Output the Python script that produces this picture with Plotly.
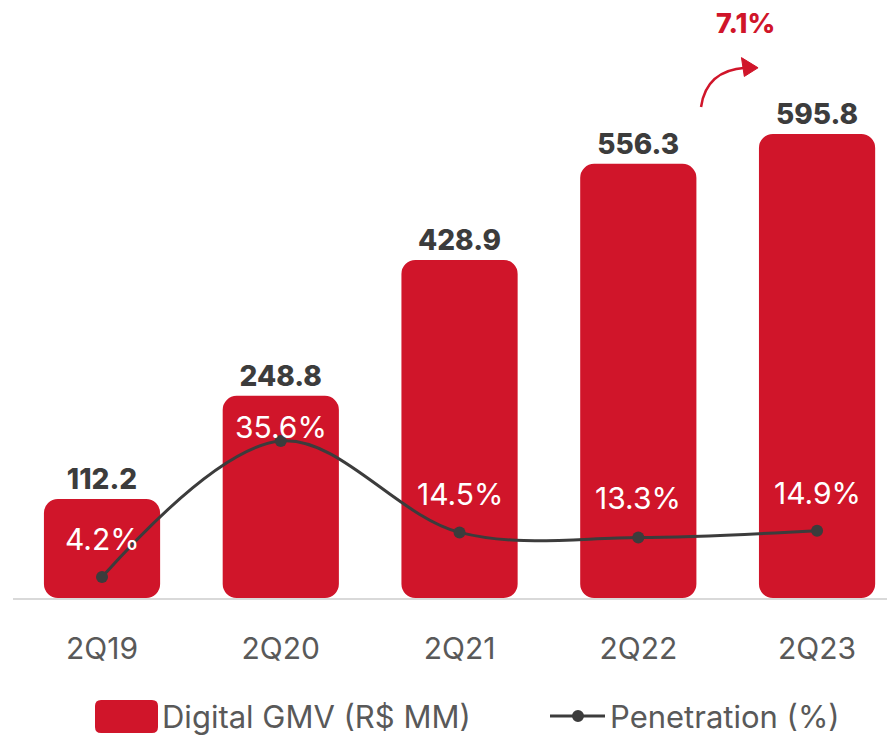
import plotly.graph_objects as go

categories = ["2Q19", "2Q20", "2Q21", "2Q22", "2Q23"]
gmv = [112.2, 248.8, 428.9, 556.3, 595.8]
penetration = [4.2, 35.6, 14.5, 13.3, 14.9]
growth_label = "7.1%"
legend_labels = ["Digital GMV (R$ MM)", "Penetration (%)"]

RED = "#D0152A"
DARK = "#3C3C3C"
GRAY = "#595959"
FONT = "Inter, Roboto, Open Sans, sans-serif"
Y_MIN, Y_MAX = -19, 762.7
Y2_MIN, Y2_MAX = -0.65, 135.6

xs = list(range(len(categories)))

fig = go.Figure()
fig.add_trace(go.Bar(
    x=xs, y=[v - Y_MIN for v in gmv], base=Y_MIN, width=0.65,
    marker=dict(color=RED, line=dict(width=0)),
    text=[f"{v:.1f}" for v in gmv], textposition="outside",
    textfont=dict(size=28, color=DARK, family=FONT, weight=800),
    constraintext="none", cliponaxis=False, showlegend=False,
))
fig.add_trace(go.Scatter(
    x=xs, y=penetration, yaxis="y2", mode="lines+markers",
    line=dict(color=DARK, width=3, shape="spline", smoothing=1.0),
    marker=dict(color=DARK, size=12), showlegend=False,
))

label_shift = [38, 14, 38, 40, 38]
annotations = []
for x, p, s in zip(xs, penetration, label_shift):
    annotations.append(dict(
        x=x, y=p, xref="x", yref="y2", yshift=s, text=f"{p}%", showarrow=False,
        font=dict(size=30, color="white", family=FONT),
    ))
annotations.append(dict(
    x=3.597, y=742.8, xref="x", yref="y", text=growth_label, showarrow=False,
    font=dict(size=27, color=RED, family=FONT, weight=800),
))

# plot area is 882 px wide (l=5, r=0); legend positions in paper units
PW = 882.0
def px(page_x):
    return (page_x - 13) / PW

LEG_Y = -0.2
annotations.append(dict(x=px(160), y=LEG_Y, xref="paper", yref="paper", xanchor="left",
                        yanchor="middle", text=legend_labels[0], showarrow=False,
                        font=dict(size=31, color=GRAY, family=FONT)))
annotations.append(dict(x=px(608), y=LEG_Y, xref="paper", yref="paper", xanchor="left",
                        yanchor="middle", text=legend_labels[1], showarrow=False,
                        font=dict(size=31, color=GRAY, family=FONT)))

# rounded legend swatch
x0, x1, y0, y1 = px(95), px(158), -0.2288, -0.1729
rx, ry = 6 / PW, 0.0102
swatch = (f"M {x0+rx} {y1} L {x1-rx} {y1} Q {x1} {y1} {x1} {y1-ry} "
          f"L {x1} {y0+ry} Q {x1} {y0} {x1-rx} {y0} L {x0+rx} {y0} "
          f"Q {x0} {y0} {x0} {y0+ry} L {x0} {y1-ry} Q {x0} {y1} {x0+rx} {y1} Z")

shapes = [
    # curved growth arrow
    dict(type="path", xref="x", yref="y",
         path="M 3.351 631.6 Q 3.38 680 3.60 683.5",
         line=dict(color=RED, width=2.5)),
    dict(type="path", xref="x", yref="y",
         path="M 3.670 683.5 L 3.577 697 L 3.593 672 Z",
         fillcolor=RED, line=dict(color=RED, width=1)),
    # legend symbols
    dict(type="path", xref="paper", yref="paper", path=swatch,
         fillcolor=RED, line=dict(width=0)),
    dict(type="line", xref="paper", yref="paper", x0=px(550), x1=px(605), y0=LEG_Y, y1=LEG_Y,
         line=dict(color=DARK, width=3)),
    dict(type="circle", xref="paper", yref="paper", x0=px(578) - 6 / PW, x1=px(578) + 6 / PW,
         y0=LEG_Y - 0.0102, y1=LEG_Y + 0.0102, fillcolor=DARK, line=dict(width=0)),
]

fig.update_layout(
    width=887, height=727,
    margin=dict(l=5, r=0, t=0, b=137, autoexpand=False),
    paper_bgcolor="white", plot_bgcolor="white",
    barcornerradius=14,
    xaxis=dict(range=[-0.498, 4.436], tickvals=xs, ticktext=categories,
               showgrid=False, zeroline=False, showline=True, linecolor="#D9D9D9",
               linewidth=2, ticks="", ticklabelstandoff=23,
               tickfont=dict(size=30, color=GRAY, family=FONT)),
    yaxis=dict(range=[Y_MIN, Y_MAX], visible=False),
    yaxis2=dict(range=[Y2_MIN, Y2_MAX], overlaying="y", visible=False),
    annotations=annotations, shapes=shapes, showlegend=False,
)

fig.write_html("out.html")
